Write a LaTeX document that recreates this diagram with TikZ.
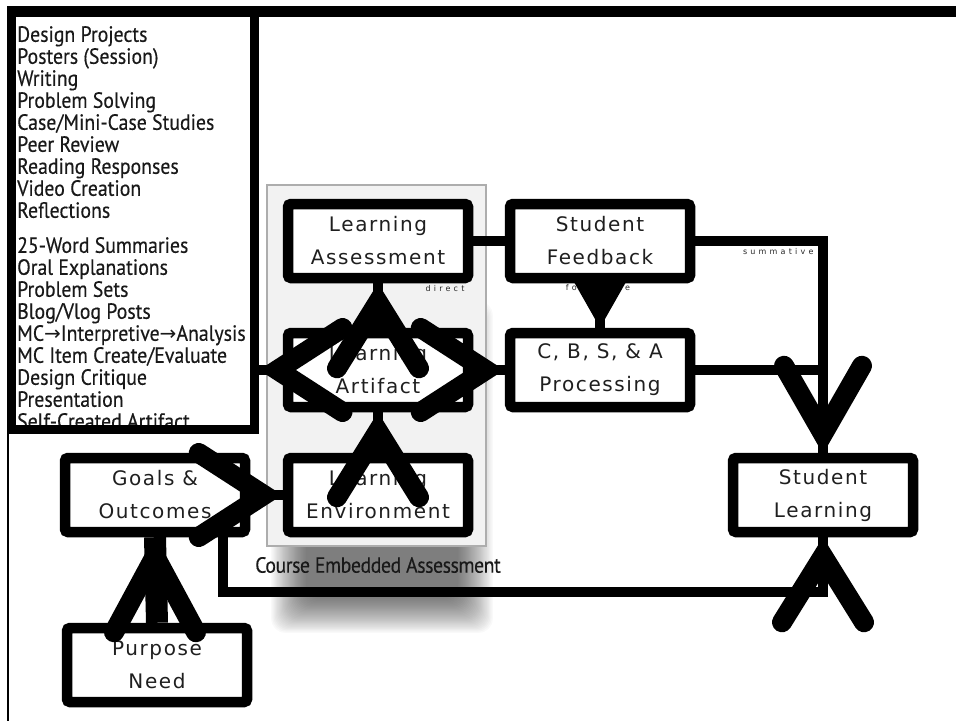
\documentclass[tikz,border=0pt]{standalone}
\usepackage{fontspec}
\setmainfont{Carlito}
\newfontfamily\boxfont[LetterSpace=8]{DejaVu Sans}
\newfontfamily\tinyfont[LetterSpace=40]{DejaVu Sans}
\newfontfamily\listfont[FakeStretch=0.9, FakeBold=0.4]{PT Sans}
\newfontfamily\symfont{DejaVu Sans}
\newfontfamily\ceafont[FakeStretch=0.9, FakeBold=0.3, LetterSpace=-2]{PT Sans}
\usetikzlibrary{calc}
\pgfdeclarelayer{shadowl}
\pgfdeclarelayer{lab}
\pgfdeclarelayer{lines}
\pgfdeclarelayer{front}
\pgfsetlayers{shadowl,lab,lines,main,front}
\newcommand\headup[2][85]{\draw[bighead] ($(#2)+(-41,#1)$) -- ($(#2)+(0,19)$) -- ($(#2)+(41,#1)$);}
\newcommand\headdown[1]{\draw[bighead] ($(#1)+(-39,-87)$) -- ($(#1)+(0,-19)$) -- ($(#1)+(39,-87)$);}
\newcommand\headright[1]{\draw[bighead] ($(#1)+(-84,-42)$) -- ($(#1)+(-19,0)$) -- ($(#1)+(-84,42)$);}
\newcommand\headleft[1]{\draw[bighead] ($(#1)+(84,-42)$) -- ($(#1)+(19,0)$) -- ($(#1)+(84,42)$);}
\begin{document}
\begin{tikzpicture}[x=1pt,y=-1pt,
  box/.style={draw=black, line width=10.5pt, rounded corners=3pt, fill=white,
    minimum width=180pt, minimum height=74pt, inner sep=0pt, align=center,
    text=black!88, font=\boxfont\fontsize{20}{33}\selectfont},
  conn/.style={line width=10pt},
  bighead/.style={line width=20pt, line cap=round, line join=miter},
  tinylab/.style={font=\tinyfont\fontsize{8}{8}\selectfont, inner sep=0pt, text=black!85}]
\useasboundingbox (0,0) rectangle (956,721);

% container with shadow
\begin{pgfonlayer}{shadowl}
  \foreach \i in {0,...,29} {
    \fill[black, opacity=0.022, rounded corners=14pt] (306-1.2*\i, 336-1.2*\i) rectangle (458+1.2*\i, 598+1.2*\i);
  }
  \node[draw=black!32, line width=2.5pt, fill=black!5, minimum width=219pt,
        minimum height=361pt, inner sep=0pt] (cea) at (376.5,365.5) {};
  \node[font=\ceafont\fontsize{22}{22}\selectfont, inner sep=0pt, text=black!90] (ceal) at (378,565) {Course Embedded Assessment};
\end{pgfonlayer}

% frame and list
\fill (7,6) rectangle (956,17);
\node[anchor=north west, align=left, inner sep=0pt, text=black!90,
      font=\listfont\fontsize{22}{22}\selectfont] (items) at (17,26)
  {Design Projects\\ Posters (Session)\\ Writing\\ Problem Solving\\ Case/Mini-Case Studies\\
   Peer Review\\ Reading Responses\\ Video Creation\\ Reflections\\[13pt]
   25-Word Summaries\\ Oral Explanations\\ Problem Sets\\ Blog/Vlog Posts\\
   MC{\symfont\fontsize{20}{20}\selectfont →}Interpretive{\symfont\fontsize{20}{20}\selectfont →}Analysis\\
   MC Item Create/Evaluate\\ Design Critique\\ Presentation\\ Self-Created Artifact};
\node[draw, line width=9pt, minimum width=243pt, minimum height=419pt, inner sep=0pt] (list) at (132.5,219.5) {};
\draw[line width=2pt] (8,430) -- (8,721);

% boxes
\node[box] (LA) at (378,241) {Learning\\Assessment};
\node[box] (SF) at (600,241) {Student\\Feedback};
\node[box] (LArt) at (378,370) {Learning\\Artifact};
\node[box] (CBSA) at (600,370) {C, B, S, \& A\\Processing};
\node[box] (LEnv) at (378,495) {Learning\\Environment};
\node[box] (Goals) at (155,495) {Goals \&\\Outcomes};
\node[box] (Purpose) at (157,665) {Purpose\\Need};
\node[box] (SL) at (823,495) {Student\\Learning};
\coordinate (ctip) at (list.east |- LArt.west);

% labels
\begin{pgfonlayer}{lab}
  \node[tinylab] (ldirect) at ($(LA.south)+(67,5)$) {direct};
  \node[tinylab] (lform) at ($(SF.south)+(-2,4)$) {formative};
  \node[tinylab] (lsumm) at ($(SF.east)+(83,11)$) {summative};
\end{pgfonlayer}

% connector lines
\begin{pgfonlayer}{lines}
  \draw[conn] (LA.east) -- (SF.west);
  \draw[conn] (SF.east) -| (SL.north);
  \draw[conn] (CBSA.east) -| (SL.north);
  \draw[conn] ([xshift=68pt]Goals.south) |- ($(SL.south)+(0,55)$) -- (SL.south);
  \draw[conn] (LArt.north) -- (LA.south);
  \draw[conn] (LEnv.north) -- (LArt.south);
  \draw[conn] (LArt.west) -- (ctip);
  \draw[conn] (LArt.east) -- (CBSA.west);
  \draw[conn] (Goals.east) -- (LEnv.west);
  \draw[line width=22pt] (Purpose.north) -- (Goals.south);
  \draw[conn] (SF.south) -- (CBSA.north);
\end{pgfonlayer}

% arrowheads
\begin{pgfonlayer}{front}
  \headup{LA.south}
  \headup{LArt.south}
  \headleft{ctip}
  \headright{CBSA.west}
  \headright{LEnv.west}
  \headup[95]{Goals.south}
  \headdown{SL.north}
  \headup{SL.south}
  \fill ($(SF.south)+(-27,-3)$) -- (CBSA.north) -- ($(SF.south)+(27,-3)$) -- cycle;
\end{pgfonlayer}
\end{tikzpicture}
\end{document}
